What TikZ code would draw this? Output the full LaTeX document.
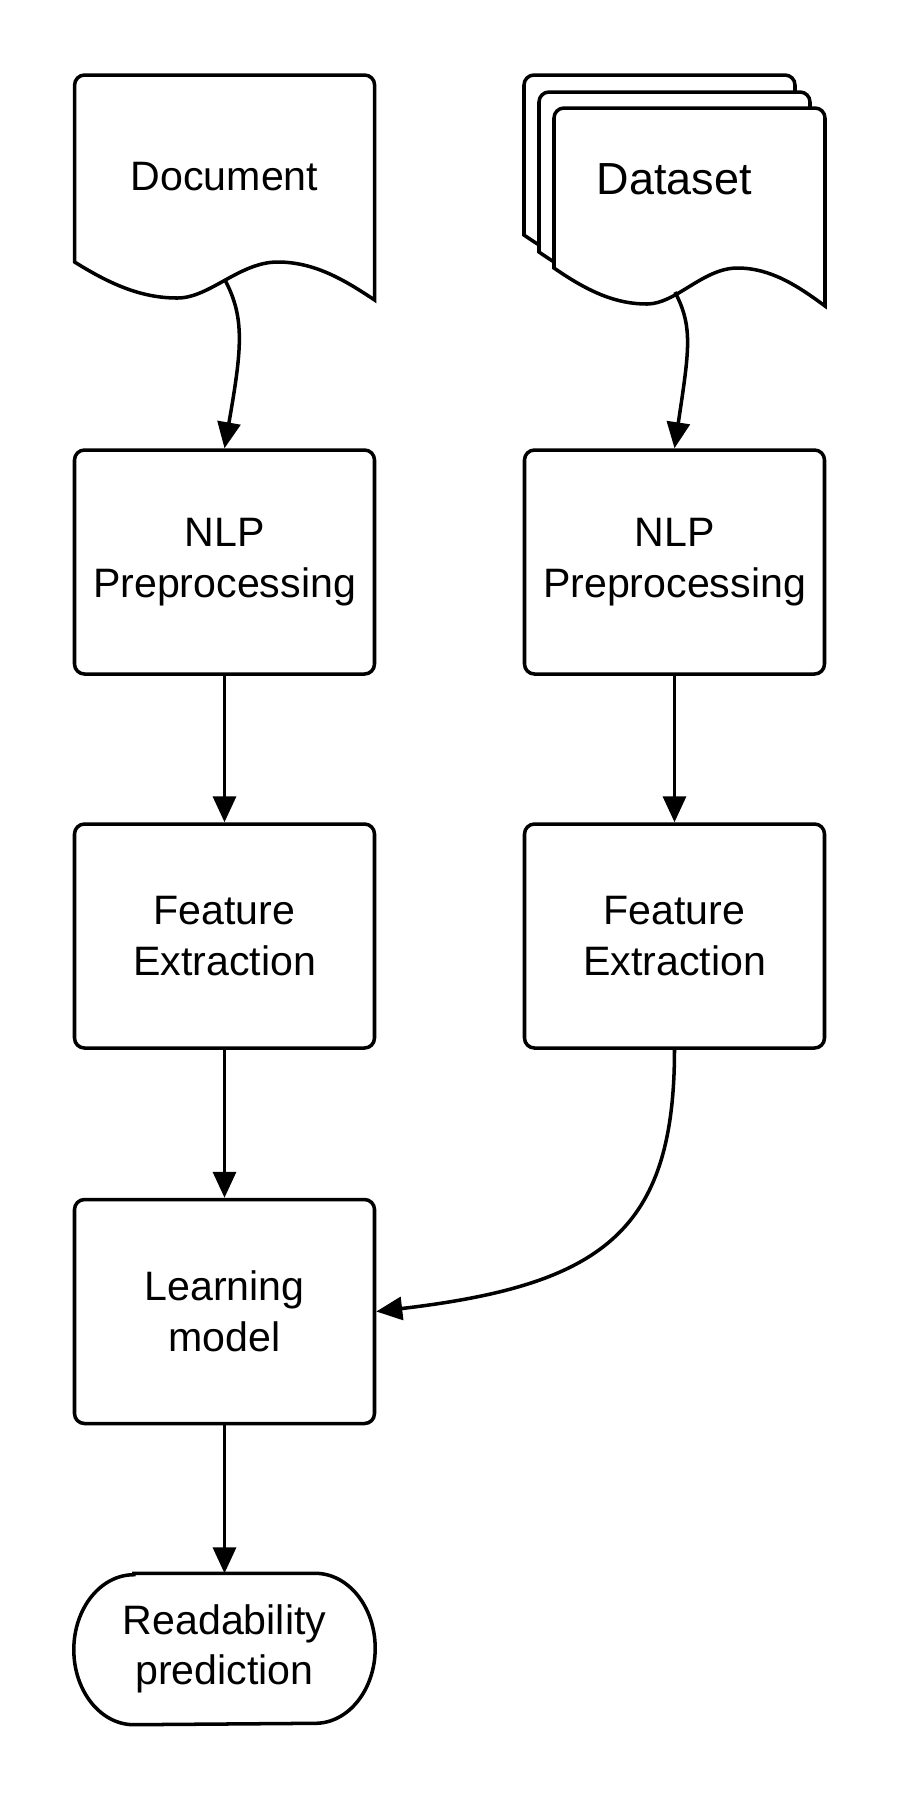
\documentclass[tikz,border=0pt]{standalone}
\usepackage{fontspec}
\setmainfont{Liberation Sans}
\usetikzlibrary{arrows.meta}

% page with a wavy lower edge: left, top, width, side height
\newcommand{\wavepage}[4]{%
  \draw[line width=1pt, fill=white]
    (#1,{#2-#4}) [rounded corners=0.1cm] -- (#1,#2) -- ({#1+#3},#2)
    [sharp corners] -- ({#1+#3},{#2-#4-0.38})
    .. controls ({#1+0.9*#3},{#2-#4-0.18}) and ({#1+0.8*#3},{#2-#4}) ..
    ({#1+0.677*#3},{#2-#4})
    .. controls ({#1+0.55*#3},{#2-#4}) and ({#1+0.45*#3},{#2-#4-0.36}) ..
    ({#1+0.343*#3},{#2-#4-0.36})
    .. controls ({#1+0.233*#3},{#2-#4-0.36}) and ({#1+0.133*#3},{#2-#4-0.25}) ..
    cycle;}

\begin{document}
\begin{tikzpicture}[
  box/.style={draw, line width=1pt, rounded corners=0.1cm,
    minimum width=3cm, minimum height=2.24cm, align=center,
    font=\fontsize{11.7}{14.4}\selectfont},
  doctext/.style={align=center, font=\fontsize{11.7}{14.4}\selectfont},
  link/.style={line width=1pt, -{Triangle[length=0.26cm, width=0.23cm]}}
]
\useasboundingbox (0,0) rectangle (9,-18);

% Inputs
\wavepage{0.746}{-0.75}{3.0}{1.87}
\node[doctext] (doc) at (2.245,-1.77) {Document};
\coordinate (docout) at (2.25,-2.80);

\wavepage{5.24}{-0.75}{2.71}{1.60}
\wavepage{5.39}{-0.92}{2.71}{1.60}
\wavepage{5.54}{-1.08}{2.71}{1.60}
\node[doctext, font=\fontsize{12.8}{15}\selectfont] (data) at (6.745,-1.79) {Dataset};
\coordinate (dataout) at (6.75,-2.92);

% Processing steps
\node[box] (nlpa) at (2.245,-5.62) {NLP\\Preprocessing};
\node[box] (nlpb) at (6.745,-5.62) {NLP\\Preprocessing};
\node[box] (feata) at (2.245,-9.36) {Feature\\Extraction};
\node[box] (featb) at (6.745,-9.36) {Feature\\Extraction};
\node[box] (learn) at (2.245,-13.115) {Learning\\model};

% Output (terminal)
\node[doctext, minimum width=3cm, minimum height=1.5cm] (pred) at (2.245,-16.49) {Readability\\prediction};
\draw[line width=1pt] ([xshift=0.6cm]pred.north west) -- ([xshift=-0.6cm]pred.north east)
  arc[start angle=90, end angle=-90, x radius=0.6cm, y radius=0.75cm]
  -- ([xshift=0.6cm]pred.south west)
  arc[start angle=270, end angle=90, x radius=0.6cm, y radius=0.75cm] -- cycle;

% Connectors
\draw[link] (docout) .. controls +(0.2,-0.38) and +(0.175,1.0) .. (nlpa.north);
\draw[link] (dataout) .. controls +(0.18,-0.35) and +(0.15,1.0) .. (nlpb.north);
\draw[link] (nlpa) -- (feata);
\draw[link] (nlpb) -- (featb);
\draw[link] (feata) -- (learn);
\draw[link] (featb.south) .. controls +(0,-1.82) and +(2.255,0.265) .. (learn.east);
\draw[link] (learn) -- (pred);

\end{tikzpicture}
\end{document}
